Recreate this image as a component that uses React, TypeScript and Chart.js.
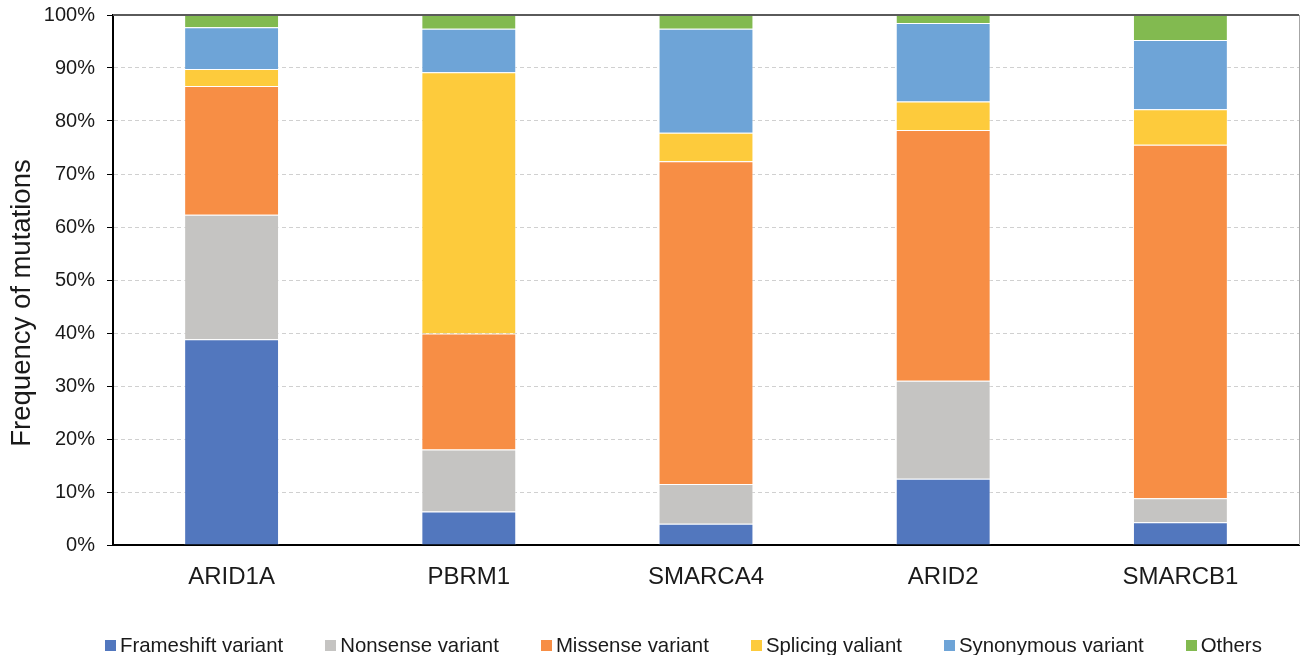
import React, { useEffect, useRef } from "react";
import { Chart, registerables } from "chart.js";

Chart.register(...registerables);

const genes = ["ARID1A", "PBRM1", "SMARCA4", "ARID2", "SMARCB1"];
const frameshift = [38.8, 6.3, 4.0, 12.5, 4.3];
const nonsense = [23.5, 11.7, 7.5, 18.5, 4.5];
const missense = [24.3, 21.9, 60.9, 47.3, 66.7];
const splicing = [3.2, 49.3, 5.4, 5.4, 6.7];
const synonymous = [7.9, 8.2, 19.6, 14.8, 13.1];
const others = [2.3, 2.6, 2.6, 1.5, 4.7];

const seriesNames = [
  "Frameshift variant",
  "Nonsense variant",
  "Missense variant",
  "Splicing valiant",
  "Synonymous variant",
  "Others",
];
const seriesColors = ["#5277BE", "#C5C4C2", "#F78E45", "#FDCB3C", "#6EA4D7", "#82BA50"];
const yTickValues = [0, 10, 20, 30, 40, 50, 60, 70, 80, 90, 100];
const yTitle = "Frequency of mutations";

const FONT = "'Liberation Sans', Arial, sans-serif";

const framePlugin = {
  id: "frameLines",
  afterDraw(chart: any) {
    const { ctx, chartArea } = chart;
    ctx.save();
    ctx.strokeStyle = "#5a5a5a";
    ctx.lineWidth = 2;
    ctx.beginPath();
    ctx.moveTo(chartArea.left, chartArea.top);
    ctx.lineTo(chartArea.right, chartArea.top);
    ctx.stroke();
    ctx.strokeStyle = "#a6a6a6";
    ctx.lineWidth = 1;
    ctx.beginPath();
    ctx.moveTo(chartArea.right + 0.5, chartArea.top);
    ctx.lineTo(chartArea.right + 0.5, chartArea.bottom);
    ctx.stroke();
    // y-axis title, placed as in the reference (slightly below the plot centre)
    ctx.fillStyle = "#1a1a1a";
    ctx.font = "27.5px " + FONT;
    ctx.textAlign = "center";
    ctx.textBaseline = "middle";
    ctx.translate(22, (chartArea.top + chartArea.bottom) / 2 + 23);
    ctx.rotate(-Math.PI / 2);
    ctx.fillText(yTitle, 0, 0);
    ctx.restore();
  },
};

export default function App() {
  const ref = useRef<HTMLCanvasElement | null>(null);

  useEffect(() => {
    if (!ref.current) return;
    const values = [frameshift, nonsense, missense, splicing, synonymous, others];
    const chart = new Chart(ref.current, {
      type: "bar",
      data: {
        labels: genes,
        datasets: values.map((d, i) => ({
          label: seriesNames[i],
          data: d,
          backgroundColor: seriesColors[i],
          borderColor: "rgba(255,255,255,0.55)",
          borderWidth: 1,
          categoryPercentage: 1,
          barPercentage: 0.4,
        })),
      },
      options: {
        animation: false,
        responsive: true,
        maintainAspectRatio: false,
        layout: { padding: { top: 15, right: 2, left: 0, bottom: 0 } },
        plugins: {
          legend: { display: false },
          tooltip: { enabled: false },
        },
        scales: {
          x: {
            stacked: true,
            grid: { display: false, drawTicks: false },
            border: { display: true, color: "#000", width: 2 },
            ticks: {
              color: "#1a1a1a",
              font: { family: FONT, size: 24 },
              padding: 18,
              maxRotation: 0,
            },
            afterFit: (s: any) => {
              s.height = 75;
            },
          },
          y: {
            stacked: true,
            min: 0,
            max: 100,
            afterBuildTicks: (s: any) => {
              s.ticks = yTickValues.map((v) => ({ value: v }));
            },
            grid: {
              color: "#d0d0d0",
              lineWidth: 1,
              drawTicks: true,
              tickLength: 6,
              tickColor: "#000",
              tickWidth: 1,
              tickBorderDash: [],
            },
            border: { display: true, color: "#000", width: 2, dash: [4, 3] },
            ticks: {
              color: "#1a1a1a",
              font: { family: FONT, size: 20 },
              padding: 12,
              callback: (v: any) => v + "%",
            },
            title: { display: false, text: yTitle },
            afterFit: (s: any) => {
              s.width = 113;
              s.paddingTop = 0;
              s.paddingBottom = 0;
            },
          },
        },
      },
      plugins: [framePlugin],
    });
    return () => chart.destroy();
  }, []);

  return (
    <div style={{ position: "fixed", left: 0, top: 0, width: 1301, height: 655, background: "#fff" }}>
      <div style={{ position: "absolute", left: 0, top: 0, width: 1301, height: 620 }}>
        <canvas ref={ref} />
      </div>
      <div
        style={{
          position: "absolute",
          left: 105,
          top: 635,
          display: "flex",
          gap: 42,
          fontFamily: FONT,
          fontSize: 20.4,
          lineHeight: "20px",
          color: "#1a1a1a",
          whiteSpace: "nowrap",
        }}
      >
        {seriesNames.map((n, i) => (
          <div key={n} style={{ display: "flex", alignItems: "center" }}>
            <span
              style={{
                display: "inline-block",
                width: 11,
                height: 11,
                background: seriesColors[i],
                marginRight: 4,
              }}
            />
            <span>{n}</span>
          </div>
        ))}
      </div>
    </div>
  );
}
